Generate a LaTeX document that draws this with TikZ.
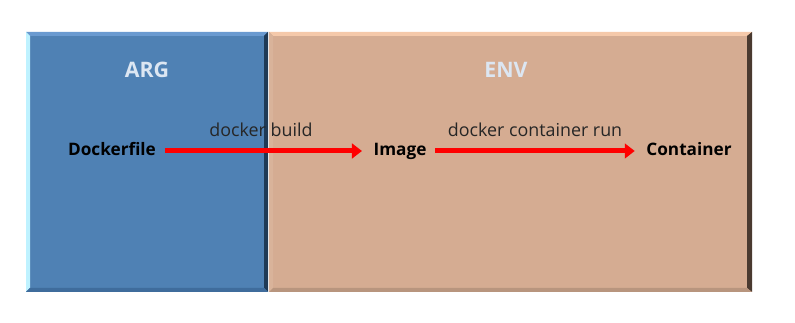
\documentclass[tikz,border=0pt]{standalone}
\usepackage{fontspec}
\setmainfont{Open Sans}
\usetikzlibrary{arrows.meta}
\definecolor{bluebox}{HTML}{4F81B4}
\definecolor{bluetop}{HTML}{6A9AD0}
\definecolor{blueleft}{HTML}{BFF2FF}
\definecolor{blueright}{HTML}{1F3A56}
\definecolor{bluebot}{HTML}{3F6C9C}
\definecolor{tanbox}{HTML}{D5AC92}
\definecolor{tantop}{HTML}{F5C9AA}
\definecolor{tanright}{HTML}{4A3A30}
\definecolor{tanbot}{HTML}{B8957E}
\definecolor{tanleft}{HTML}{D9B39A}
\definecolor{headtxt}{HTML}{DCE6F2}
\tikzset{
  lbl/.style={font=\fontsize{12.9}{15}\selectfont\bfseries, text=black, inner sep=0pt, text height=1.5ex, text depth=0.35ex},
  cmd/.style={font=\fontsize{13.4}{16}\selectfont, text=black!85, inner sep=0pt},
  head/.style={font=\fontsize{16}{19}\selectfont\bfseries, text=headtxt, inner sep=0pt},
  flow/.style={draw=red, line width=3.75pt, -{Triangle[length=7.5pt,width=11pt]}, shorten <=6.5pt, shorten >=8.5pt}
}
\begin{document}
\begin{tikzpicture}[x=0.75pt,y=-0.75pt]
\useasboundingbox (0,0) rectangle (795,323);
% blue box
\fill[bluebox] (26,32) rectangle (268,292);
\fill[bluetop] (26,32) -- (268,32) -- (264,36) -- (30,36) -- cycle;
\fill[blueleft] (26,32) -- (30,36) -- (30,288) -- (26,292) -- cycle;
\fill[blueright] (268,32) -- (268,292) -- (264,288) -- (264,36) -- cycle;
\fill[bluebot] (26,292) -- (268,292) -- (264,288) -- (30,288) -- cycle;
% tan box
\fill[tanbox] (269,32) rectangle (752,292);
\fill[tantop] (269,32) -- (752,32) -- (747,36) -- (273,36) -- cycle;
\fill[tanleft] (269,32) -- (273,36) -- (273,288) -- (269,292) -- cycle;
\fill[tanright] (752,32) -- (752,292) -- (747,288) -- (747,36) -- cycle;
\fill[tanbot] (269,292) -- (752,292) -- (747,288) -- (273,288) -- cycle;
% headers
\node[head] (arg) at (147,70) {ARG};
\node[head] (env) at (506,70) {ENV};
% labels
\node[lbl] (dockerfile) at (112,151) {Dockerfile};
\node[lbl] (image) at (400,151) {Image};
\node[lbl] (container) at (689,151) {Container};
\node[cmd] (build) at (261,130) {docker build};
\node[cmd] (run) at (535,130) {docker container run};
% arrows
\draw[flow] (dockerfile) -- (image);
\draw[flow] (image) -- (container);
\end{tikzpicture}
\end{document}
